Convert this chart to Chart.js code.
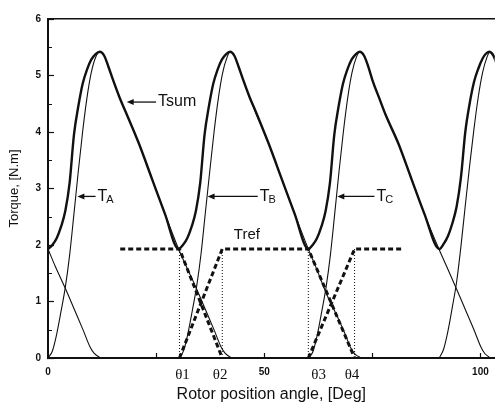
<!DOCTYPE html>
<html>
<head>
<meta charset="utf-8">
<script src="https://cdn.jsdelivr.net/npm/chart.js@4.4.1/dist/chart.umd.min.js"></script>
<style>
  html, body { margin: 0; padding: 0; background: #fff; overflow: hidden; }
  #wrap { width: 502px; height: 409px; position: relative; }
</style>
</head>
<body>
<div id="wrap"><canvas id="torqueChart"></canvas></div>
<script>
// rotor angle [deg] / torque [N.m] for each phase current pulse
const tailAngle  = [0, 1.7, 4.2, 6.2, 8.2, 9.7, 10.7, 12.2];
const tailTorque = [1.93, 1.62, 1.2, 0.84, 0.48, 0.2, 0.08, 0];

const phaseAAngle  = [0, 1, 2, 3, 4, 5, 6, 7, 8, 9, 10, 11, 12, 13, 14, 15, 16.5, 18, 21, 24, 27, 30.2, 32, 34.5, 36.5, 38.5, 40, 41, 42.5];
const phaseATorque = [0, 0.12, 0.42, 0.82, 1.25, 1.82, 2.55, 3.3, 4.0, 4.6, 5.05, 5.32, 5.42, 5.35, 5.15, 4.93, 4.62, 4.35, 3.8, 3.18, 2.56, 1.93, 1.62, 1.2, 0.84, 0.48, 0.2, 0.08, 0];

const phaseBAngle  = [30.4, 31.4, 32.4, 33.4, 34.4, 35.4, 36.4, 37.4, 38.4, 39.4, 40.4, 41.4, 42.1, 43.1, 44.1, 45.1, 46.6, 48.1, 51, 54, 57, 60.2, 62, 64.5, 66.5, 68.5, 70, 71, 72.5];
const phaseBTorque = [0, 0.14, 0.45, 0.85, 1.28, 1.85, 2.58, 3.3, 4.0, 4.6, 5.05, 5.32, 5.42, 5.35, 5.15, 4.93, 4.62, 4.33, 3.8, 3.18, 2.56, 1.93, 1.6, 1.12, 0.8, 0.46, 0.18, 0.07, 0];

const phaseCAngle  = [60.3, 61.3, 62.3, 63.3, 64.3, 65.3, 66.3, 67.3, 68.3, 69.3, 70.3, 71.3, 72.1, 73.1, 74.1, 75.1, 76.6, 78.1, 81, 84, 87, 90.4, 92.2, 94.6, 96.6, 98.5, 100.2, 101, 102.3];
const phaseCTorque = [0, 0.12, 0.42, 0.82, 1.25, 1.82, 2.55, 3.3, 4.0, 4.6, 5.05, 5.32, 5.42, 5.35, 5.15, 4.9, 4.6, 4.3, 3.8, 3.18, 2.56, 1.93, 1.62, 1.2, 0.84, 0.5, 0.18, 0.08, 0];

const phaseA2Angle  = [90.5, 91.5, 92.5, 93.5, 94.5, 95.5, 96.5, 97.5, 98.5, 99.5, 100.5, 101.5, 102.2, 103.2, 104.2];
const phaseA2Torque = [0, 0.16, 0.48, 0.9, 1.35, 1.98, 2.7, 3.4, 4.05, 4.62, 5.05, 5.32, 5.42, 5.35, 5.15];

// total torque
const sumAngle = [0, 1, 2, 3, 4, 5, 6, 7, 8, 9, 10, 11, 12, 13, 14, 15, 16.5, 18, 21, 24, 27, 30.2,
  31.2, 32.2, 33.2, 34.2, 35.2, 36.2, 37.2, 38.2, 39.2, 40.2, 41.2, 42.1, 43.1, 44.1, 45.1, 46.6, 48.1, 51, 54, 57, 60.2,
  61.2, 62.2, 63.2, 64.2, 65.2, 66.2, 67.2, 68.2, 69.2, 70.2, 71.2, 72.1, 73.1, 74.1, 75.1, 76.6, 78.1, 81, 84, 87, 90.5,
  91.5, 92.5, 93.5, 94.5, 95.5, 96.5, 97.5, 98.5, 99.5, 100.5, 101.2, 102, 103, 104];
const sumTorque = [1.93, 2.0, 2.12, 2.32, 2.6, 3.1, 3.95, 4.45, 4.85, 5.1, 5.28, 5.38, 5.42, 5.35, 5.15, 4.93, 4.62, 4.35, 3.8, 3.18, 2.56, 1.93,
  2.0, 2.12, 2.32, 2.6, 3.1, 3.95, 4.45, 4.85, 5.1, 5.28, 5.38, 5.42, 5.35, 5.15, 4.93, 4.62, 4.35, 3.8, 3.18, 2.56, 1.93,
  2.0, 2.12, 2.32, 2.6, 3.1, 3.95, 4.45, 4.85, 5.1, 5.28, 5.38, 5.42, 5.35, 5.15, 4.9, 4.6, 4.3, 3.8, 3.18, 2.56, 1.93,
  2.02, 2.16, 2.38, 2.68, 3.2, 4.0, 4.5, 4.88, 5.12, 5.3, 5.38, 5.42, 5.35, 5.15];

// reference torque (commutation between θ1-θ2 and θ3-θ4)
const trefLevel = 1.93;
const thetaAngles = [30.4, 40.3, 60.2, 70.9];
const tref1Angle = [16.7, 30.4, 40.3];
const tref1Torque = [1.93, 1.93, 0];
const tref2Angle = [30.4, 40.3, 60.2, 70.9];
const tref2Torque = [0, 1.93, 1.93, 0];
const tref3Angle = [60.2, 70.9, 82.0];
const tref3Torque = [0, 1.93, 1.93];

// axis ticks
const xTickValues = [0, 25, 31.1, 39.8, 50, 62.6, 70.3, 75, 100];
const xTickLabels = ['0', '', 'θ1', 'θ2', '50', 'θ3', 'θ4', '', '100'];
const yMinorTicks = [0.5, 1.5, 2.5, 3.5, 4.5, 5.5];

const ink = '#111';
const sans = "'Liberation Sans', Arial, sans-serif";

function pts(xs, ys) {
  return xs.map((x, i) => ({ x: x, y: ys[i] }));
}

function thinLine(xs, ys) {
  return { data: pts(xs, ys), borderColor: ink, borderWidth: 1.1, pointRadius: 0,
    cubicInterpolationMode: 'monotone', xAxisID: 'x', yAxisID: 'y' };
}

function trefLine(xs, ys) {
  return { data: pts(xs, ys), borderColor: ink, borderWidth: 3, borderDash: [5, 3],
    pointRadius: 0, tension: 0, xAxisID: 'x', yAxisID: 'y' };
}

const datasets = [
  thinLine(tailAngle, tailTorque),
  thinLine(phaseAAngle, phaseATorque),
  thinLine(phaseBAngle, phaseBTorque),
  thinLine(phaseCAngle, phaseCTorque),
  thinLine(phaseA2Angle, phaseA2Torque),
  { data: pts(sumAngle, sumTorque), borderColor: ink, borderWidth: 2.4, pointRadius: 0,
    cubicInterpolationMode: 'monotone', xAxisID: 'x', yAxisID: 'y' }
];

thetaAngles.forEach(a => {
  datasets.push({ data: [{ x: a, y: 0 }, { x: a, y: trefLevel }], borderColor: ink,
    borderWidth: 1, borderDash: [1, 2], pointRadius: 0, xAxisID: 'x', yAxisID: 'y' });
});

datasets.push(trefLine(tref1Angle, tref1Torque));
datasets.push(trefLine(tref2Angle, tref2Torque));
datasets.push(trefLine(tref3Angle, tref3Torque));

// curve labels with little arrows, placed in data units
const curveLabels = [
  { text: 'Tsum', sub: '', y: 4.53, tip: 18.2, tail: 25.0 },
  { text: 'T', sub: 'A', y: 2.86, tip: 6.8, tail: 11.0 },
  { text: 'T', sub: 'B', y: 2.86, tip: 36.9, tail: 48.5 },
  { text: 'T', sub: 'C', y: 2.86, tip: 66.9, tail: 75.5 }
];

const annotations = {
  id: 'annotations',
  afterDraw(chart) {
    const ctx = chart.ctx;
    const xs = chart.scales.x, ys = chart.scales.y;
    const area = chart.chartArea;
    ctx.save();
    ctx.strokeStyle = ink;
    ctx.fillStyle = ink;

    // minor ticks on the torque axis
    ctx.lineWidth = 1;
    yMinorTicks.forEach(v => {
      const py = Math.round(ys.getPixelForValue(v)) + 0.5;
      ctx.beginPath();
      ctx.moveTo(area.left, py);
      ctx.lineTo(area.left + 4, py);
      ctx.stroke();
    });

    curveLabels.forEach(l => {
      const py = ys.getPixelForValue(l.y);
      const tipX = xs.getPixelForValue(l.tip);
      const tailX = xs.getPixelForValue(l.tail);
      ctx.lineWidth = 1.3;
      ctx.beginPath();
      ctx.moveTo(tailX, py);
      ctx.lineTo(tipX + 5, py);
      ctx.stroke();
      ctx.beginPath();
      ctx.moveTo(tipX, py);
      ctx.lineTo(tipX + 7, py - 3);
      ctx.lineTo(tipX + 7, py + 3);
      ctx.closePath();
      ctx.fill();
      ctx.font = '16px ' + sans;
      ctx.textBaseline = 'middle';
      ctx.textAlign = 'left';
      ctx.fillText(l.text, tailX + 2, py);
      if (l.sub) {
        const w = ctx.measureText(l.text).width;
        ctx.font = '11px ' + sans;
        ctx.fillText(l.sub, tailX + 2 + w - 1, py + 4);
      }
    });

    ctx.font = '15px ' + sans;
    ctx.textAlign = 'center';
    ctx.textBaseline = 'middle';
    ctx.fillText('Tref', xs.getPixelForValue(46.0), ys.getPixelForValue(2.18));
    ctx.restore();
  }
};

new Chart(document.getElementById('torqueChart'), {
  type: 'line',
  data: { datasets: datasets },
  options: {
    responsive: true,
    maintainAspectRatio: false,
    animation: false,
    devicePixelRatio: 1,
    layout: { padding: 0 },
    plugins: { legend: { display: false }, tooltip: { enabled: false } },
    scales: {
      x: {
        type: 'linear',
        position: 'bottom',
        min: 0,
        max: 103.3,
        afterFit: s => { s.height = 51; },
        afterBuildTicks: s => { s.ticks = xTickValues.map(v => ({ value: v })); },
        ticks: {
          autoSkip: false,
          maxRotation: 0,
          padding: 13,
          color: ink,
          callback: (v, i) => xTickLabels[i],
          font: c => (xTickLabels[c.index] || '').startsWith('θ')
            ? { family: "'Liberation Serif', 'Times New Roman', serif", size: 15 }
            : { family: sans, size: 10, weight: 'bold' }
        },
        grid: {
          drawOnChartArea: false,
          drawTicks: true,
          tickLength: -5,
          tickWidth: 1.2,
          tickColor: c => (xTickLabels[c.index] || '').startsWith('θ') ? 'rgba(0,0,0,0)' : ink
        },
        border: { display: true, color: ink, width: 2 },
        title: {
          display: true,
          text: 'Rotor position angle, [Deg]',
          color: ink,
          font: { family: sans, size: 16 },
          padding: { top: 0, bottom: 5 }
        }
      },
      x2: {
        type: 'linear',
        position: 'top',
        min: 0,
        max: 103.3,
        afterFit: s => { s.height = 16; },
        ticks: { display: false },
        grid: { display: false, drawTicks: false },
        border: { display: true, color: ink, width: 1.6 }
      },
      y: {
        type: 'linear',
        position: 'left',
        min: 0,
        max: 6,
        afterFit: s => { s.width = 48; },
        ticks: {
          stepSize: 1,
          padding: 13,
          color: ink,
          font: { family: sans, size: 10, weight: 'bold' }
        },
        grid: {
          drawOnChartArea: false,
          drawTicks: true,
          tickLength: -6,
          tickWidth: 1.2,
          tickColor: ink
        },
        border: { display: true, color: ink, width: 2 },
        title: {
          display: true,
          text: 'Torque, [N.m]',
          color: ink,
          font: { family: sans, size: 13 },
          padding: { top: 7, bottom: 0 }
        }
      }
    }
  },
  plugins: [annotations]
});
</script>
</body>
</html>
